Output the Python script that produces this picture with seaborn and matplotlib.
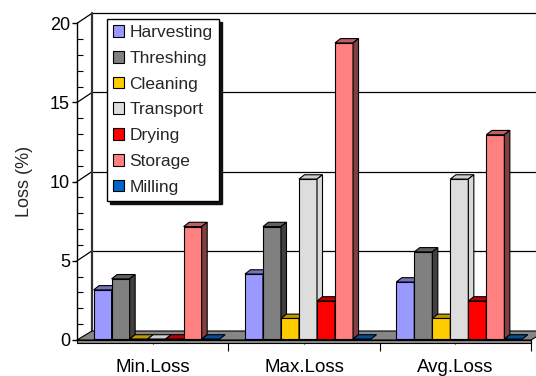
import numpy as np
import pandas as pd
import matplotlib
matplotlib.use("Agg")
import matplotlib.pyplot as plt
import matplotlib.transforms as mtransforms
from matplotlib.patches import Polygon, Patch, Rectangle
from matplotlib.ticker import MultipleLocator, FixedLocator
from matplotlib.colors import to_rgb
import seaborn as sns

# ---- data -------------------------------------------------------------
stages = ["Min.Loss", "Max.Loss", "Avg.Loss"]
operations = ["Harvesting", "Threshing", "Cleaning", "Transport",
              "Drying", "Storage", "Milling"]
harvesting = [3.1, 4.1, 3.6]
threshing = [3.8, 7.1, 5.5]
cleaning = [0.0, 1.3, 1.3]
transport = [0.0, 10.1, 10.1]
drying = [0.0, 2.4, 2.4]
storage = [7.1, 18.7, 12.9]
milling = [0.0, 0.0, 0.0]
y_ticks = [0, 5, 10, 15, 20]

colors = ["#9999FF", "#808080", "#FFCC00", "#DDDDDD",
          "#FF0000", "#FF8080", "#0066CC"]
# shading of (top, side) faces for each series
shades = {"#DDDDDD": (0.93, 0.98)}
default_shade = (0.75, 0.5)

series = [harvesting, threshing, cleaning, transport, drying, storage, milling]
rows = []
for op, vals in zip(operations, series):
    for st, v in zip(stages, vals):
        rows.append({"stage": st, "operation": op, "loss": v})
df = pd.DataFrame(rows)

# ---- figure -----------------------------------------------------------
sns.set_style("white")
plt.rcParams["font.family"] = ["Liberation Sans", "DejaVu Sans"]

W, H = 536, 376
fig = plt.figure(figsize=(W / 100, H / 100), dpi=100)
ax = fig.add_axes([77 / W, (H - 340) / H, (531 - 77) / W, (340 - 23.3) / H])

sns.barplot(data=df, x="stage", y="loss", hue="operation",
            order=stages, hue_order=operations, palette=colors,
            width=0.833, saturation=1, edgecolor="black", linewidth=0.8,
            legend=False, ax=ax)

ax.set_xlim(-0.5, 2.5)
ax.set_ylim(0, 20)

# pixel scale of the data axes
p0 = ax.transData.transform((0, 0))
p1 = ax.transData.transform((1, 1))
ppx, ppy = p1[0] - p0[0], p1[1] - p0[1]

# depth of the chart box (walls / floor) and of each column, in pixels
wall_dx, wall_dy = 15 / ppx, 10 / ppy
floor_dy = 9 / ppy
bar_dx, bar_dy = 5.5 / ppx, 4.3 / ppy

bar_shift = mtransforms.ScaledTranslation(4 / 100, 1 / 100, fig.dpi_scale_trans)
bar_tr = ax.transData + bar_shift


def shade(c, k):
    r, g, b = to_rgb(c)
    return (r * k, g * k, b * k)


# ---- floor -------------------------------------------------------------
x_lo, x_hi = -0.5, 2.5
strip = 3 / ppy
floor = Polygon([(x_lo, 0), (x_hi, 0), (x_hi + wall_dx, floor_dy),
                 (x_lo + wall_dx, floor_dy)], closed=True,
                facecolor="#868686", edgecolor="black", linewidth=0.8,
                zorder=1.5, clip_on=False, transform=ax.transData)
ax.add_patch(floor)
front_strip = Rectangle((x_lo, -strip), x_hi - x_lo, strip,
                        facecolor="#8c8c8c", edgecolor="black", linewidth=0.8,
                        zorder=1.6, clip_on=False, transform=ax.transData)
ax.add_patch(front_strip)

# ---- back wall and side-wall gridlines ----------------------------------
far_right = x_hi + wall_dx + 0.2
for v in y_ticks[1:]:
    ax.plot([x_lo + wall_dx, far_right], [v + wall_dy, v + wall_dy],
            color="black", linewidth=0.9, zorder=1, clip_on=False)
for v in y_ticks[1:]:
    ax.plot([x_lo, x_lo + wall_dx], [v, v + wall_dy],
            color="black", linewidth=0.9, zorder=1, clip_on=False)
ax.plot([x_lo + wall_dx, x_lo + wall_dx], [floor_dy, 20 + wall_dy],
        color="#333333", linewidth=1.6, zorder=1, clip_on=False)

# ---- 3-D columns ------------------------------------------------------
bars = sorted([p for p in ax.patches if p not in (floor, front_strip)],
              key=lambda r: r.get_x())
for rank, bar in enumerate(bars):
    x0, w, h = bar.get_x(), bar.get_width(), bar.get_height()
    fc = matplotlib.colors.to_hex(bar.get_facecolor()).upper()
    k_top, k_side = shades.get(fc, default_shade)
    z = 3 + 3 * rank
    bar.set_transform(bar_tr)
    bar.set_zorder(z)
    bar.set_clip_on(False)
    top = Polygon([(x0, h), (x0 + w, h), (x0 + w + bar_dx, h + bar_dy),
                   (x0 + bar_dx, h + bar_dy)], closed=True,
                  facecolor=shade(fc, k_top), edgecolor="black", linewidth=0.8,
                  zorder=z + 1, clip_on=False, transform=bar_tr)
    ax.add_patch(top)
    if h > 0:
        side = Polygon([(x0 + w, 0), (x0 + w + bar_dx, bar_dy),
                        (x0 + w + bar_dx, h + bar_dy), (x0 + w, h)],
                       closed=True, facecolor=shade(fc, k_side),
                       edgecolor="black", linewidth=0.8,
                       zorder=z + 2, clip_on=False, transform=bar_tr)
        ax.add_patch(side)

# ---- axes ---------------------------------------------------------------
for s in ("top", "right", "bottom"):
    ax.spines[s].set_visible(False)
ax.spines["left"].set_color("black")
ax.spines["left"].set_linewidth(1)
ax.spines["left"].set_zorder(2)

ax.set_yticks(y_ticks)
ax.yaxis.set_minor_locator(MultipleLocator(1))
ax.tick_params(axis="y", which="major", direction="out", length=3.5,
               width=1, pad=1.5, labelsize=13, colors="black", left=True)
ax.tick_params(axis="y", which="minor", direction="in", length=4,
               width=0.8, color="black", left=True)

ax.set_xticks(range(len(stages)), stages)
ax.xaxis.set_minor_locator(FixedLocator([0.5, 1.5, 2.5]))
ax.tick_params(axis="x", which="major", direction="out", length=3,
               width=0.8, pad=11, labelsize=13.5, colors="black", bottom=True)
ax.tick_params(axis="x", which="minor", direction="out", length=8,
               width=0.8, color="black", bottom=True)

ax.set_xlabel("")
ax.set_ylabel("Loss (%)", fontsize=13, labelpad=12)
ax.grid(False)
ax.patch.set_alpha(0)

# ---- legend -------------------------------------------------------------
handles = [Patch(facecolor=c, edgecolor="black", linewidth=0.8) for c in colors]
leg = ax.legend(handles, operations, loc="upper left",
                bbox_to_anchor=(107 / W, 1 - 19 / H),
                bbox_transform=fig.transFigure, borderaxespad=0,
                fontsize=12.5, frameon=True, fancybox=False,
                edgecolor="black", framealpha=1,
                shadow={"ox": 2.2, "oy": -2.2, "facecolor": "#111111",
                        "edgecolor": "#111111", "alpha": 1},
                handlelength=0.65, handleheight=0.65, handletextpad=0.3,
                labelspacing=0.62, borderpad=0.35)
leg.get_frame().set_linewidth(1)
leg.set_zorder(100)

fig.savefig("out.png", dpi=100)
